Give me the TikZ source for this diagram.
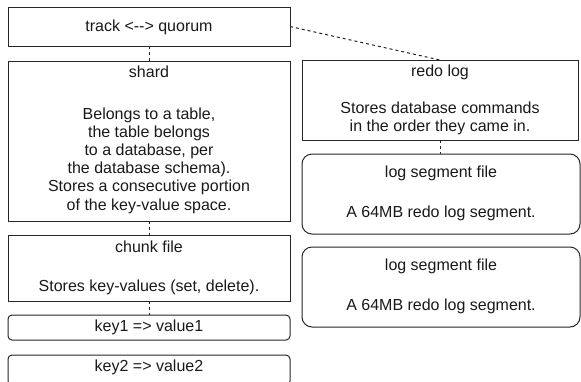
\documentclass[tikz,border=0pt]{standalone}
\usepackage{fontspec}
\setmainfont{Liberation Sans}
\begin{document}
\begin{tikzpicture}[x=1pt,y=-1pt,
  box/.style={draw=black!85, line width=1pt, rectangle, inner sep=0pt, outer sep=0pt, anchor=north west},
  rbox/.style={box, rounded corners=#1},
  lbl/.style={anchor=base, font=\fontsize{16}{18.2}\selectfont, inner sep=0pt, align=center, text=black!90},
  conn/.style={draw=black!85, line width=1pt, dash pattern=on 3pt off 3pt}]
\clip (0,0) rectangle (581,381);
% left column
\node[box, minimum width=282pt, minimum height=39pt] (track) at (8,7) {};
\node[box, minimum width=282pt, minimum height=160pt] (shard) at (8,61) {};
\node[box, minimum width=282pt, minimum height=66pt] (chunk) at (8,235) {};
\node[rbox=4pt, minimum width=282pt, minimum height=25pt] (key1) at (8,315) {};
\node[rbox=4pt, minimum width=282pt, minimum height=30pt] (key2) at (8,355) {};
% right column
\node[box, minimum width=276pt, minimum height=80pt] (redo) at (302,60) {};
\node[rbox=10pt, minimum width=278pt, minimum height=80pt] (seg1) at (302,154) {};
\node[rbox=10pt, minimum width=278pt, minimum height=80pt] (seg2) at (302,247) {};
% texts (base = baseline of last line)
\node[lbl] (ttrack) at (149,31) {track <-{}-> quorum};
\node[lbl] (tshard) at (149,77) {shard};
\node[lbl] (bshard) at (149,210) {Belongs to a table,\\the table belongs\\to a database, per\\the database schema).\\Stores a consecutive portion\\of the key-value space.};
\node[lbl] (tchunk) at (149,252) {chunk file};
\node[lbl] (bchunk) at (149,291) {Stores key-values (set, delete).};
\node[lbl] (tkey1) at (149,331) {key1 => value1};
\node[lbl] (tkey2) at (149,371.7) {key2 => value2};
\node[lbl] (tredo) at (440,76) {redo log};
\node[lbl] (bredo) at (440,131.7) {Stores database commands\\in the order they came in.};
\node[lbl] (tseg1) at (441,177.5) {log segment file};
\node[lbl] (bseg1) at (441,217.3) {A 64MB redo log segment.};
\node[lbl] (tseg2) at (441,270.5) {log segment file};
\node[lbl] (bseg2) at (441,310) {A 64MB redo log segment.};
% connectors
\draw[conn] (track.south) -- (shard.north);
\draw[conn] (shard.south) -- (chunk.north);
\draw[conn] (chunk.south) -- (key1.north);
\draw[conn] (track.east) -- (redo.north);
\draw[conn] (redo.south) -- (redo.south |- seg1.north);
\end{tikzpicture}
\end{document}
